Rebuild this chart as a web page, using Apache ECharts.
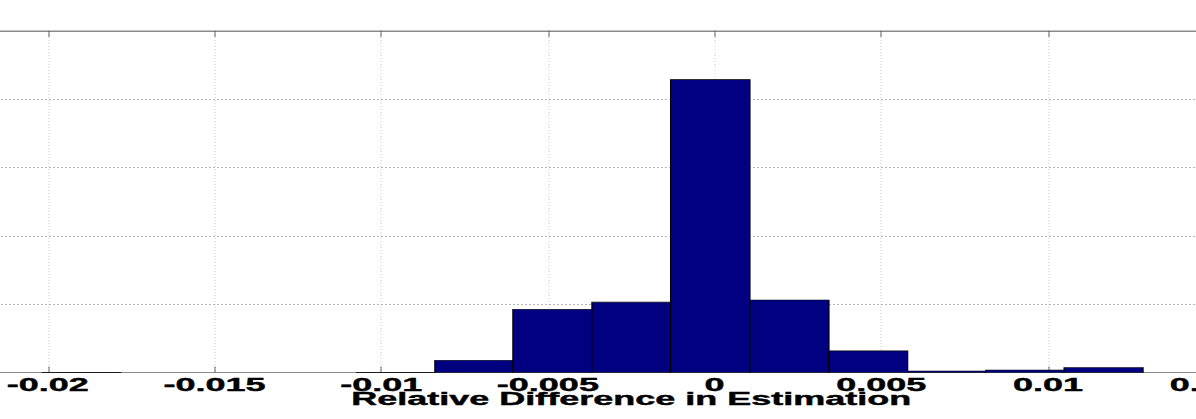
<!DOCTYPE html>
<html>
<head>
<meta charset="utf-8">
<script src="https://cdn.jsdelivr.net/npm/echarts@6/dist/echarts.min.js"></script>
<style>
  html, body { margin: 0; padding: 0; background: #ffffff; overflow: hidden; }
  #wrap { width: 1196px; height: 419px; overflow: hidden; }
  #chart { width: 598px; height: 419px; transform: scaleX(2); transform-origin: 0 0; }
</style>
</head>
<body>
<div id="wrap"><div id="chart"></div></div>
<script>
// Histogram bin edges (relative difference)
const binEdges = [-0.02017, -0.01781, -0.01545, -0.01309, -0.01074, -0.00839, -0.00605,
                  -0.00368, -0.00132, 0.00106, 0.00343, 0.00579, 0.00813, 0.01048, 0.01285];
// Counts per bin
const binCounts = [1, 0, 0, 0, 1, 90, 463, 515, 2144, 531, 158, 11, 18, 37];
// Axis settings
const xMin = -0.025, xMax = 0.02, xStep = 0.005;
const yMin = 0, yMax = 2500, yStep = 500;
const xTitle = 'Relative Difference in Estimation';

const histData = binCounts.map((c, i) => [binEdges[i], binEdges[i + 1], c]);

const chart = echarts.init(document.getElementById('chart'), null, { renderer: 'svg' });
const font = 'Liberation Sans, Arial, Helvetica, sans-serif';

chart.setOption({
  animation: false,
  backgroundColor: '#ffffff',
  grid: { left: -59.5, right: -92.75, top: 31, bottom: 46.5, containLabel: false, outerBoundsMode: 'none',
          show: true, borderColor: '#8a8a8a', borderWidth: 1, backgroundColor: 'transparent' },
  xAxis: [
    {
      type: 'value', position: 'bottom', gridIndex: 0,
      min: xMin, max: xMax, interval: xStep,
      name: xTitle, nameLocation: 'middle', nameGap: 19, nameMoveOverlap: false,
      nameTextStyle: { fontFamily: font, fontWeight: 'bold', fontSize: 18, lineHeight: 14, color: '#000',
                       textBorderColor: '#000', textBorderWidth: 0.4 },
      axisLine: { show: true, onZero: false, lineStyle: { color: '#8c8c8c', width: 1 } },
      axisTick: { show: true, inside: true, length: 6, lineStyle: { color: '#333', width: 0.5 } },
      axisLabel: { show: true, margin: 5, fontFamily: font, fontWeight: 'bold', fontSize: 18, lineHeight: 14,
                   color: '#000', textBorderColor: '#000', textBorderWidth: 0.4,
                   showMinLabel: true, showMaxLabel: true, hideOverlap: false },
      splitLine: { show: true, lineStyle: { color: '#b5b5b5', width: 0.5, type: [1, 2] } }
    },
    {
      type: 'value', position: 'top', gridIndex: 0, show: true, z: 10,
      min: xMin, max: xMax, interval: xStep,
      axisLine: { show: true, onZero: false, lineStyle: { color: '#8a8a8a', width: 1 } },
      axisTick: { show: true, inside: true, length: 6, lineStyle: { color: '#333', width: 0.5 } },
      axisLabel: { show: false },
      splitLine: { show: false }
    }
  ],
  yAxis: {
    type: 'value', min: yMin, max: yMax, interval: yStep,
    axisLine: { show: false },
    axisTick: { show: false },
    axisLabel: { show: false },
    splitLine: { show: true, lineStyle: { color: '#b5b5b5', width: 1, type: [1, 1] } }
  },
  series: [{
    type: 'custom',
    xAxisIndex: 0,
    data: histData,
    encode: { x: [0, 1], y: 2 },
    renderItem: function (params, api) {
      const c = api.value(2);
      if (!c) return null;
      const p0 = api.coord([api.value(0), 0]);
      const p1 = api.coord([api.value(1), c]);
      return {
        type: 'rect',
        shape: { x: p0[0], y: p1[1], width: p1[0] - p0[0], height: p0[1] - p1[1] },
        style: { fill: '#000080', stroke: '#000000', lineWidth: 0.6 }
      };
    }
  }]
});
</script>
</body>
</html>
